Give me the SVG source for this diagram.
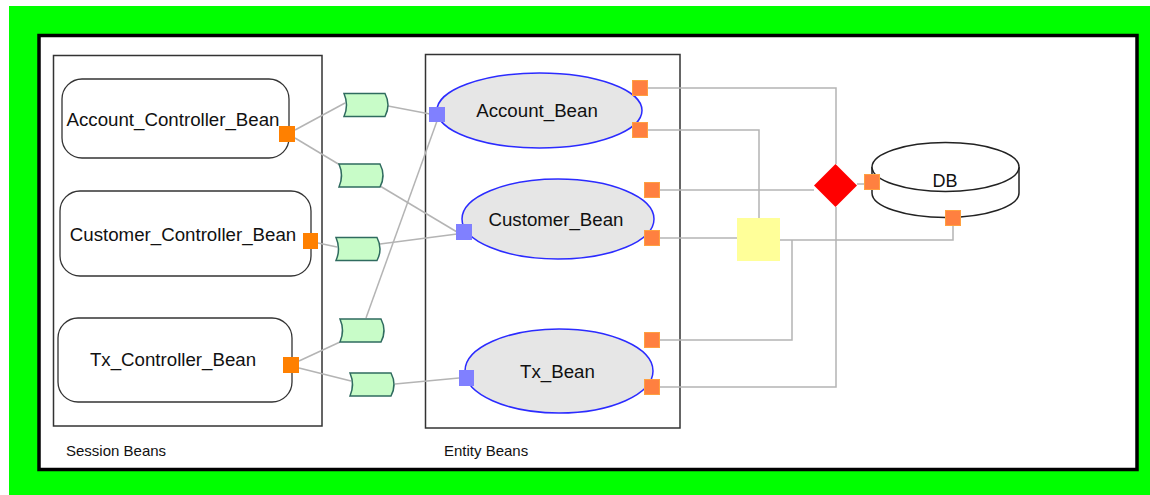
<svg xmlns="http://www.w3.org/2000/svg" xmlns:xlink="http://www.w3.org/1999/xlink" width="1150" height="495" viewBox="0 0 1150 495">
  <style>
    .group { fill: none; stroke: #333333; stroke-width: 1.5; }
    .session { fill: #ffffff; stroke: #333333; stroke-width: 1.3; }
    .entity { fill: #e6e6e6; stroke: #2b2bff; stroke-width: 1.5; }
    .outport { fill: #ff8000; }
    .eport { fill: #ff8040; stroke: #ffa040; stroke-width: 1; }
    .inport { fill: #8080ff; }
    .link { fill: none; stroke: #b4b4b4; stroke-width: 1.5; }
    .label { font-family: "Liberation Sans", Arial, sans-serif; font-size: 18.7px; fill: #111111; text-anchor: middle; }
    .caption { font-family: "Liberation Sans", Arial, sans-serif; font-size: 15px; fill: #111111; }
  </style>
  <defs>
    <!-- message connector tag -->
    <path id="tag" d="M0,0 H41 Q47,11.5 41,23 H0 Q5,11.5 0,0 Z" fill="#c8fcc8" stroke="#2f6b5f" stroke-width="1.5"/>
  </defs>

  <!-- frame -->
  <rect x="0" y="0" width="1150" height="495" fill="#ffffff"/>
  <rect x="9" y="6" width="1141" height="489" fill="#00ff00"/>
  <rect x="39" y="35.5" width="1098" height="434" fill="#ffffff" stroke="#000000" stroke-width="3.5"/>

  <!-- containers -->
  <g id="session-beans">
    <rect class="group" x="53.5" y="55.5" width="268.5" height="370.5"/>
    <text class="caption" x="66" y="456">Session Beans</text>
  </g>
  <g id="entity-beans">
    <rect class="group" x="425.5" y="54.5" width="254.5" height="373.5"/>
    <text class="caption" x="444" y="456">Entity Beans</text>
  </g>

  <!-- connectors -->
  <g id="connectors">
    <line class="link" x1="295" y1="130" x2="345" y2="103"/>
    <line class="link" x1="388" y1="106" x2="430" y2="114"/>
    <line class="link" x1="295" y1="138" x2="340" y2="165"/>
    <line class="link" x1="380" y1="186" x2="457" y2="232"/>
    <line class="link" x1="318" y1="243" x2="337" y2="247"/>
    <line class="link" x1="380" y1="244" x2="457" y2="234"/>
    <line class="link" x1="299" y1="361" x2="340" y2="342"/>
    <line class="link" x1="366" y1="318" x2="437" y2="121"/>
    <line class="link" x1="299" y1="368" x2="351" y2="381"/>
    <line class="link" x1="395" y1="384" x2="459" y2="378"/>
    <polyline class="link" points="648,88 836,88 836,164"/>
    <polyline class="link" points="648,130 759,130 759,218"/>
    <line class="link" x1="660" y1="190" x2="814" y2="190"/>
    <line class="link" x1="660" y1="238" x2="737" y2="238"/>
    <polyline class="link" points="780,240 953,240 953,226"/>
    <polyline class="link" points="660,340 792,340 792,240"/>
    <polyline class="link" points="660,387 836,387 836,207"/>
    <line class="link" x1="857" y1="184" x2="864" y2="184"/>
  </g>

  <!-- message tags -->
  <g id="tag-1"><use xlink:href="#tag" x="344" y="93.5"/></g>
  <g id="tag-2"><use xlink:href="#tag" x="339" y="164"/></g>
  <g id="tag-3"><use xlink:href="#tag" x="336" y="237.5"/></g>
  <g id="tag-4"><use xlink:href="#tag" x="340" y="319"/></g>
  <g id="tag-5"><use xlink:href="#tag" x="350" y="373"/></g>

  <!-- session beans -->
  <g id="account-controller">
    <rect class="session" x="62" y="79" width="227" height="79" rx="20"/>
    <text class="label" x="173" y="126">Account_Controller_Bean</text>
    <rect class="outport" x="279" y="126" width="16" height="16"/>
  </g>
  <g id="customer-controller">
    <rect class="session" x="60" y="191" width="251" height="85" rx="20"/>
    <text class="label" x="183" y="241">Customer_Controller_Bean</text>
    <rect class="outport" x="303" y="233" width="15" height="16"/>
  </g>
  <g id="tx-controller">
    <rect class="session" x="58" y="318" width="234" height="84" rx="20"/>
    <text class="label" x="173" y="366">Tx_Controller_Bean</text>
    <rect class="outport" x="283" y="357" width="16" height="16"/>
  </g>

  <!-- entity beans -->
  <g id="account-bean">
    <ellipse class="entity" cx="539.5" cy="110.5" rx="102.5" ry="37.5"/>
    <text class="label" x="537" y="117">Account_Bean</text>
    <rect class="inport" x="429" y="107" width="16" height="15"/>
    <rect class="eport" x="632.5" y="80.5" width="15" height="15"/>
    <rect class="eport" x="632.5" y="122.5" width="15" height="15"/>
  </g>
  <g id="customer-bean">
    <ellipse class="entity" cx="558" cy="219" rx="96" ry="40"/>
    <text class="label" x="556" y="226">Customer_Bean</text>
    <rect class="inport" x="456" y="224" width="16" height="16"/>
    <rect class="eport" x="644.5" y="182.5" width="15" height="15"/>
    <rect class="eport" x="644.5" y="230.5" width="15" height="15"/>
  </g>
  <g id="tx-bean">
    <ellipse class="entity" cx="559" cy="371" rx="94" ry="42"/>
    <text class="label" x="557.5" y="378">Tx_Bean</text>
    <rect class="inport" x="459" y="370" width="15" height="16"/>
    <rect class="eport" x="644.5" y="332.5" width="15" height="15"/>
    <rect class="eport" x="644.5" y="379.5" width="15" height="15"/>
  </g>

  <!-- join and decision -->
  <g id="join">
    <rect x="737" y="218" width="43" height="43" fill="#ffff99"/>
  </g>
  <g id="decision">
    <polygon points="835.5,164 857,185.5 835.5,207 814,185.5" fill="#ff0000"/>
  </g>

  <!-- database -->
  <g id="db">
    <path d="M872,167 V193 A73.5,24.5 0 0 0 1019,193 V167" fill="#ffffff" stroke="#222222" stroke-width="1.5"/>
    <ellipse cx="945.5" cy="167" rx="73.5" ry="24.5" fill="#ffffff" stroke="#222222" stroke-width="1.5"/>
    <text x="945" y="187" font-family="Liberation Sans, Arial, sans-serif" font-size="18px" fill="#111111" text-anchor="middle">DB</text>
    <rect class="eport" x="864.5" y="174.5" width="15" height="15"/>
    <rect class="eport" x="945.5" y="210.5" width="15" height="15"/>
  </g>
</svg>
